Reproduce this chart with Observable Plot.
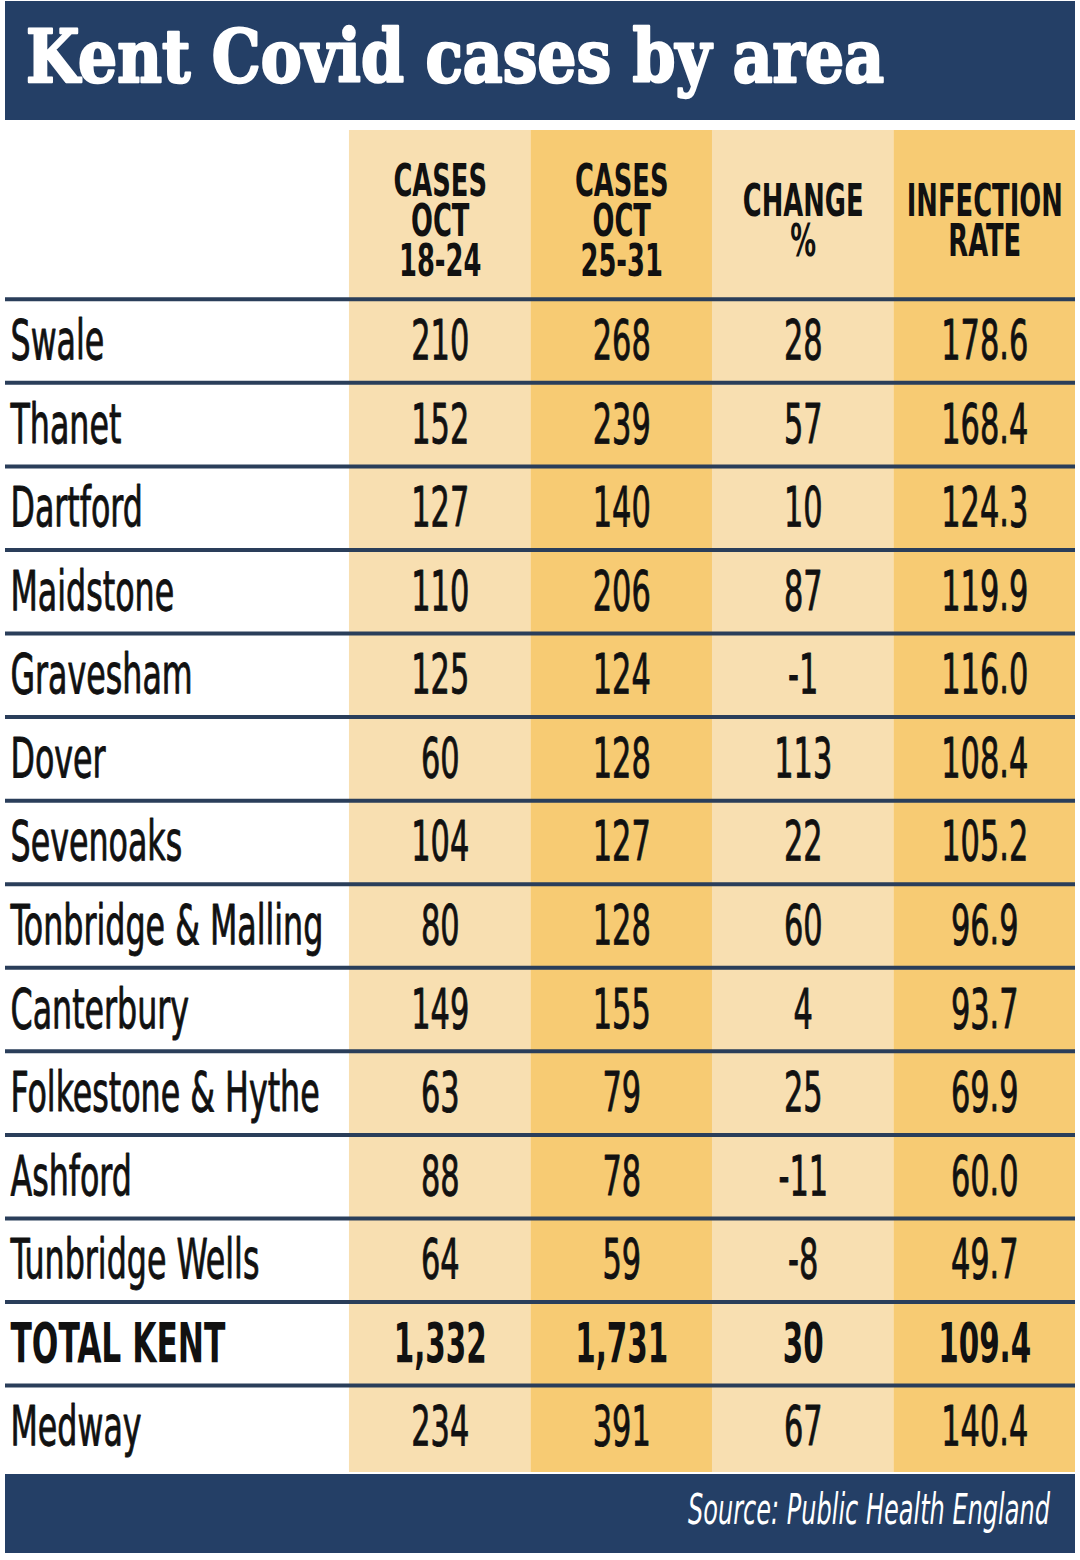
<!DOCTYPE html>
<html>
<head>
<meta charset="utf-8">
<script src="https://cdn.jsdelivr.net/npm/d3@7"></script>
<script src="https://cdn.jsdelivr.net/npm/@observablehq/plot@0.6"></script>
<style>
  html, body { margin: 0; padding: 0; background: #ffffff; }
  body { width: 1080px; height: 1560px; overflow: hidden; }
  .band { display: block; margin: 0 5px; overflow: visible; }
  #title { margin-top: 1px; }
  #chart svg { display: block; }
</style>
</head>
<body>
<svg id="title" class="band" width="1070" height="119"></svg>
<div id="chart"></div>
<svg id="footer" class="band" width="1070" height="79"></svg>
<script>
// ---------- data ----------
const titleText = "Kent Covid cases by area";
const sourceText = "Source: Public Health England";
const columnHeaders = ["CASES\nOCT\n18-24", "CASES\nOCT\n25-31", "CHANGE\n%", "INFECTION\nRATE"];
const areas = ["Swale", "Thanet", "Dartford", "Maidstone", "Gravesham", "Dover", "Sevenoaks",
  "Tonbridge & Malling", "Canterbury", "Folkestone & Hythe", "Ashford", "Tunbridge Wells",
  "TOTAL KENT", "Medway"];
const cases1824 = [210, 152, 127, 110, 125, 60, 104, 80, 149, 63, 88, 64, 1332, 234];
const cases2531 = [268, 239, 140, 206, 124, 128, 127, 128, 155, 79, 78, 59, 1731, 391];
const changePct = [28, 57, 10, 87, -1, 113, 22, 60, 4, 25, -11, -8, 30, 67];
const infectionRate = [178.6, 168.4, 124.3, 119.9, 116.0, 108.4, 105.2, 96.9, 93.7, 69.9, 60.0, 49.7, 109.4, 140.4];
const totalLabel = "TOTAL KENT";

// ---------- styles ----------
const NAVY = "#243f66";
const RULE = "#2a3e5a";
const LIGHT = "#f8dfb1";
const DARK = "#f7cb73";
const INK = "#111111";
const COND = '"Liberation Sans Narrow", "DejaVu Sans Condensed", "Roboto", sans-serif';

const ctx = document.createElement("canvas").getContext("2d");
function fit(text, weight, size, target, style = "normal") {
  ctx.font = `${style} ${weight} ${size}px ${COND}`;
  return target / ctx.measureText(text).width;
}
const sLabel = fit("Tonbridge & Malling", "normal", 56, 313);
const sNum = fit("178.6", "normal", 56, 87);
const sTotLabel = fit("TOTAL KENT", "bold", 56, 215);
const sTotNum = fit("1,332", "bold", 56, 93);
const sHead = fit("INFECTION", "bold", 45, 156);

// ---------- title & footer ----------
d3.select("#title").append("rect").attr("width", 1070).attr("height", 119).attr("fill", NAVY);
d3.select("#title").append("text")
  .attr("x", 21).attr("y", 81)
  .attr("fill", "#ffffff")
  .attr("stroke", "#ffffff")
  .attr("stroke-width", 2.5)
  .attr("stroke-linejoin", "round")
  .attr("font-family", '"DejaVu Serif", serif')
  .attr("font-weight", "bold")
  .attr("font-size", 72)
  .attr("textLength", 858)
  .attr("lengthAdjust", "spacingAndGlyphs")
  .text(titleText);

d3.select("#footer").append("rect").attr("width", 1070).attr("height", 79).attr("fill", NAVY);
d3.select("#footer").append("text")
  .attr("x", 1045).attr("y", 50)
  .attr("text-anchor", "end")
  .attr("fill", "#ffffff")
  .attr("font-family", COND)
  .attr("font-style", "italic")
  .attr("font-size", 42)
  .attr("textLength", 362)
  .attr("lengthAdjust", "spacingAndGlyphs")
  .text(sourceText);

// ---------- table data for Plot ----------
const fmtCases = d3.format(",");
const fmtChange = v => (v < 0 ? "-" + Math.abs(v) : String(v));
const fmtRate = v => v.toFixed(1);

const columns = columnHeaders.map((h, j) => ({x1: j, x2: j + 1, header: h, xc: j + 0.5, shade: j % 2}));
const colStart = -1.895;
const nRows = areas.length;
const headerTop = -2.02;
const tableBottom = nRows + 0.04;

const labels = areas.map((a, i) => ({x: colStart, y: i + 0.5, text: a, total: a === totalLabel}));
const cells = [];
areas.forEach((a, i) => {
  const vals = [fmtCases(cases1824[i]), fmtCases(cases2531[i]), fmtChange(changePct[i]), fmtRate(infectionRate[i])];
  vals.forEach((t, j) => cells.push({x: j + 0.5, y: i + 0.5, text: t, total: a === totalLabel}));
});
const headers = columns.map(c => ({x: c.xc, y: headerTop / 2 + 0.1, text: c.header}));
const ruleRows = d3.range(nRows);

const chart = Plot.plot({
  width: 1080,
  height: 1354,
  marginTop: 10,
  marginBottom: 2,
  marginLeft: 5,
  marginRight: 5,
  x: {domain: [colStart, columnHeaders.length], axis: null},
  y: {domain: [headerTop, tableBottom], reverse: true, axis: null},
  marks: [
    Plot.rect(columns.filter(c => c.shade === 0), {x1: "x1", x2: "x2", y1: () => headerTop, y2: () => tableBottom, fill: LIGHT}),
    Plot.rect(columns.filter(c => c.shade === 1), {x1: "x1", x2: "x2", y1: () => headerTop, y2: () => tableBottom, fill: DARK}),
    Plot.ruleY(ruleRows, {stroke: RULE, strokeWidth: 4}),
    Plot.text(labels.filter(d => !d.total), {x: "x", y: "y", text: "text", textAnchor: "start", dx: 5, fontSize: 56, fontFamily: COND, fill: INK, stroke: INK, strokeWidth: 0.9}),
    Plot.text(labels.filter(d => d.total), {x: "x", y: "y", text: "text", textAnchor: "start", dx: 5, fontSize: 56, fontWeight: "bold", fontFamily: COND, fill: INK}),
    Plot.text(cells.filter(d => !d.total), {x: "x", y: "y", text: "text", textAnchor: "middle", fontSize: 56, fontFamily: COND, fill: INK, stroke: INK, strokeWidth: 0.9}),
    Plot.text(cells.filter(d => d.total), {x: "x", y: "y", text: "text", textAnchor: "middle", fontSize: 56, fontWeight: "bold", fontFamily: COND, fill: INK}),
    Plot.text(headers, {x: "x", y: "y", text: "text", textAnchor: "middle", lineAnchor: "middle", lineHeight: 0.88, fontSize: 45, fontWeight: "bold", fontFamily: COND, fill: INK})
  ]
});
document.getElementById("chart").appendChild(chart);

// condense text horizontally, per text mark group (in mark order)
const textGroups = Array.from(chart.querySelectorAll('g[aria-label="text"]'));
const scales = [sLabel, sTotLabel, sNum, sTotNum, sHead];
textGroups.forEach((g, k) => {
  const s = scales[k] ?? 1;
  g.querySelectorAll("text").forEach(t => {
    const tr = t.getAttribute("transform") || "";
    t.setAttribute("transform", `${tr} scale(${s},1)`);
  });
});
</script>
</body>
</html>
